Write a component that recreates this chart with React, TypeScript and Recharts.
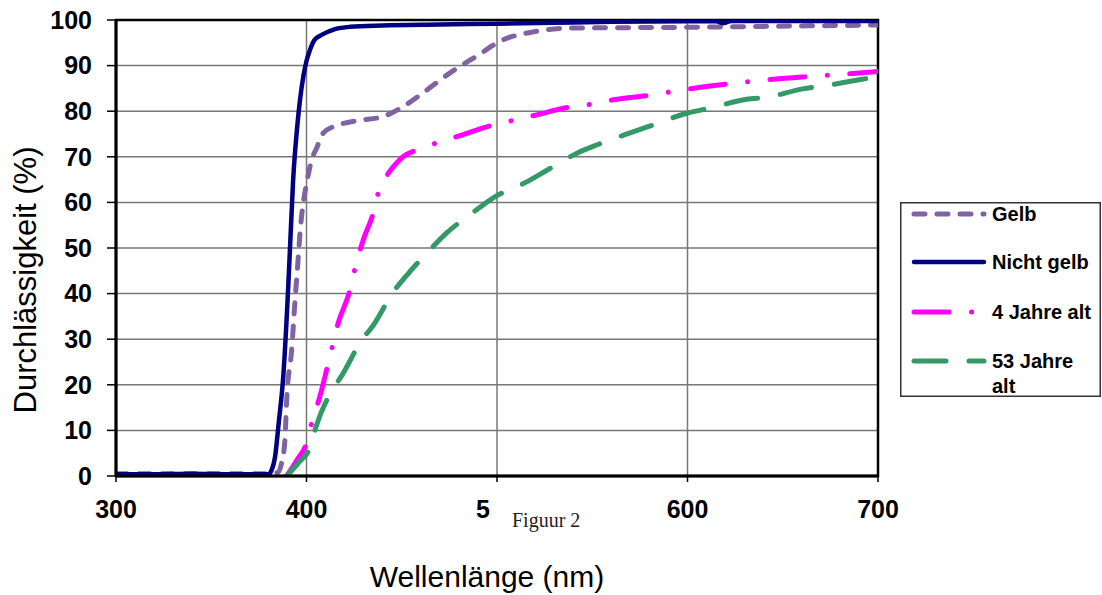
import { CartesianGrid, Label, Line, LineChart, ReferenceArea, XAxis, YAxis } from "recharts";

// [wavelength nm, transmission %]
const gelb: [number, number][] = [
  [300, 0.5], [330, 0.5], [360, 0.5], [380, 0.5], [385, 0.8], [387, 3], [388.7, 8],
  [389.6, 16.7], [392.2, 27.6], [394, 38.6], [395.7, 48], [396.6, 53.3], [398, 59],
  [400, 64], [402.7, 69.3], [405.4, 72], [408.8, 75.2], [414, 76.6], [420, 77.4],
  [428, 78], [440, 78.8], [450.7, 81], [463, 84.6], [475, 88.3], [489, 92],
  [503, 95.6], [519, 97.4], [536.6, 98.2], [560, 98.3], [600, 98.4], [620, 98.5],
  [640, 98.6], [660, 98.7], [700, 98.9],
];

const nichtGelb: [number, number][] = [
  [300, 0.4], [320, 0.4], [340, 0.5], [360, 0.4], [380, 0.4], [381.7, 1.3],
  [383.5, 4.2], [385.5, 12], [387.8, 21.8], [390.5, 42.3], [391.3, 49.6], [393, 65],
  [395, 76], [396.6, 82.5], [398.5, 88], [400, 91], [401.8, 93.4], [404, 95.5],
  [407, 96.5], [410.6, 97.3], [415, 98], [422.8, 98.5], [440, 98.8], [470, 99],
  [500, 99.2], [530, 99.4], [560, 99.6], [600, 99.7], [615, 99.7], [619, 99.3],
  [623, 99.8], [650, 99.8], [700, 99.8],
];

const vierJahre: [number, number][] = [
  [389.6, 0], [395, 3.5], [400, 7.2], [402.7, 11.6], [407, 17.4], [411, 24],
  [416.6, 33.5], [422.8, 40.8], [425.5, 45.6], [430, 52], [435, 57.6], [437.7, 62.1],
  [443, 66.4], [447, 68.5], [450.7, 70], [458, 71.5], [468, 73], [478.8, 74.4],
  [488, 75.7], [498, 77], [508.6, 78], [520.8, 79.2], [538, 80.9], [550.6, 81.6],
  [561, 82.5], [580, 83.5], [603, 85], [622, 86], [645, 87], [664, 87.6],
  [685, 88.2], [700, 88.7],
];

const dreiundfuenfzigJahre: [number, number][] = [
  [389.6, 0], [396, 3], [402, 6.4], [405, 10.8], [413, 18.5], [418.5, 22],
  [429, 29.8], [435, 33], [445.6, 40.4], [452.6, 44], [464.8, 49.6], [473.6, 53.3],
  [489, 58.3], [498, 61], [515.6, 64.5], [526, 67], [542, 70.8], [553, 72.7],
  [571, 75.4], [582, 77], [600, 79.6], [612, 80.7], [631, 82.6], [642, 83.1],
  [660.6, 84.9], [671, 85.5], [691.6, 87], [700, 87.6],
];

const wavelengthTicks = [300, 400, 500, 600, 700];
const percentTicks = [0, 10, 20, 30, 40, 50, 60, 70, 80, 90, 100];

const FONT = "'Liberation Sans', Arial, sans-serif";

const SERIES = [
  { name: "Gelb", points: gelb, color: "#8064a2", width: 5, dash: "11 12" },
  { name: "Nicht gelb", points: nichtGelb, color: "#000080", width: 4.5, dash: undefined },
  { name: "4 Jahre alt", points: vierJahre, color: "#ff00ff", width: 5, dash: "35 22.5 0.1 22.4" },
  { name: "53 Jahre alt", points: dreiundfuenfzigJahre, color: "#339966", width: 5, dash: "32 23" },
];

function toRows(points: [number, number][]) {
  return points.map(([wl, t]) => ({ wl, t }));
}

// the caption box hides the "00" of 500 in the reference, only "5" is visible
function WavelengthTick(props: any) {
  const { x, y, payload } = props;
  const cut = payload.value === 500;
  return (
    <text
      x={cut ? x - 7 : x}
      y={y}
      dy="0.71em"
      textAnchor={cut ? "end" : "middle"}
      fontSize={25}
      fontWeight="bold"
      fontFamily={FONT}
      fill="#000"
    >
      {cut ? "5" : payload.value}
    </text>
  );
}

function LegendBox() {
  const rows = [
    { y: 12, text: ["Gelb"] },
    { y: 60, text: ["Nicht gelb"] },
    { y: 110, text: ["4 Jahre alt"] },
    { y: 159, text: ["53 Jahre", "alt"] },
  ];
  return (
    <svg width={201} height={195} style={{ display: "block" }}>
      <rect x={0.75} y={0.75} width={199.5} height={193.5} fill="#fff" stroke="#333" strokeWidth={1.5} />
      {SERIES.map((s, i) => (
        <g key={s.name}>
          <line
            x1={14}
            x2={84}
            y1={rows[i].y}
            y2={rows[i].y}
            stroke={s.color}
            strokeWidth={s.width}
            strokeDasharray={s.dash}
            strokeLinecap="round"
          />
          {rows[i].text.map((t, j) => (
            <text
              key={t}
              x={92}
              y={rows[i].y + 7 + j * 25}
              fontSize={20}
              fontWeight="bold"
              fontFamily={FONT}
              fill="#000"
            >
              {t}
            </text>
          ))}
        </g>
      ))}
    </svg>
  );
}

export default function App() {
  return (
    <div style={{ position: "absolute", left: 0, top: 0, width: 1102, height: 595, background: "#fff" }}>
      <LineChart width={1102} height={595} margin={{ top: 20, right: 224, bottom: 79, left: 36 }}>
        <CartesianGrid stroke="#777" strokeWidth={1.5} />
        <XAxis
          dataKey="wl"
          type="number"
          domain={[300, 700]}
          ticks={wavelengthTicks}
          interval={0}
          allowDataOverflow
          height={40}
          tick={<WavelengthTick />}
          tickSize={6}
          tickMargin={18}
          axisLine={{ stroke: "#000", strokeWidth: 3 }}
          tickLine={{ stroke: "#000", strokeWidth: 1.5 }}
        >
          <Label
            content={() => (
              <text x={487} y={587} textAnchor="middle" fontSize={30} fontFamily={FONT} fill="#000">
                Wellenlänge (nm)
              </text>
            )}
          />
        </XAxis>
        <YAxis
          type="number"
          domain={[0, 100]}
          ticks={percentTicks}
          interval={0}
          allowDataOverflow
          width={80}
          tickSize={9}
          tickMargin={15}
          tick={{ fontSize: 25, fontWeight: "bold", fill: "#000", fontFamily: FONT }}
          axisLine={{ stroke: "#000", strokeWidth: 3 }}
          tickLine={{ stroke: "#000", strokeWidth: 1.5 }}
        >
          <Label
            content={() => (
              <text
                x={0}
                y={0}
                transform="translate(36,280) rotate(-90)"
                textAnchor="middle"
                fontSize={31}
                fontFamily={FONT}
                fill="#000"
              >
                Durchlässigkeit (%)
              </text>
            )}
          />
        </YAxis>
        <ReferenceArea x1={300} x2={700} y1={0} y2={100} fill="none" stroke="#000" strokeWidth={2.5} />
        {SERIES.map((s) => (
          <Line
            key={s.name}
            name={s.name}
            data={toRows(s.points)}
            dataKey="t"
            type="monotone"
            stroke={s.color}
            strokeWidth={s.width}
            strokeDasharray={s.dash}
            strokeLinecap="round"
            dot={false}
            activeDot={false}
            isAnimationActive={false}
          />
        ))}
      </LineChart>
      <div style={{ position: "absolute", left: 900, top: 202 }}>
        <LegendBox />
      </div>
      <div
        style={{
          position: "absolute",
          left: 512,
          top: 508,
          fontFamily: "'Liberation Serif', 'Times New Roman', serif",
          fontSize: 20,
          color: "#222",
          lineHeight: "24px",
        }}
      >
        Figuur 2
      </div>
    </div>
  );
}
